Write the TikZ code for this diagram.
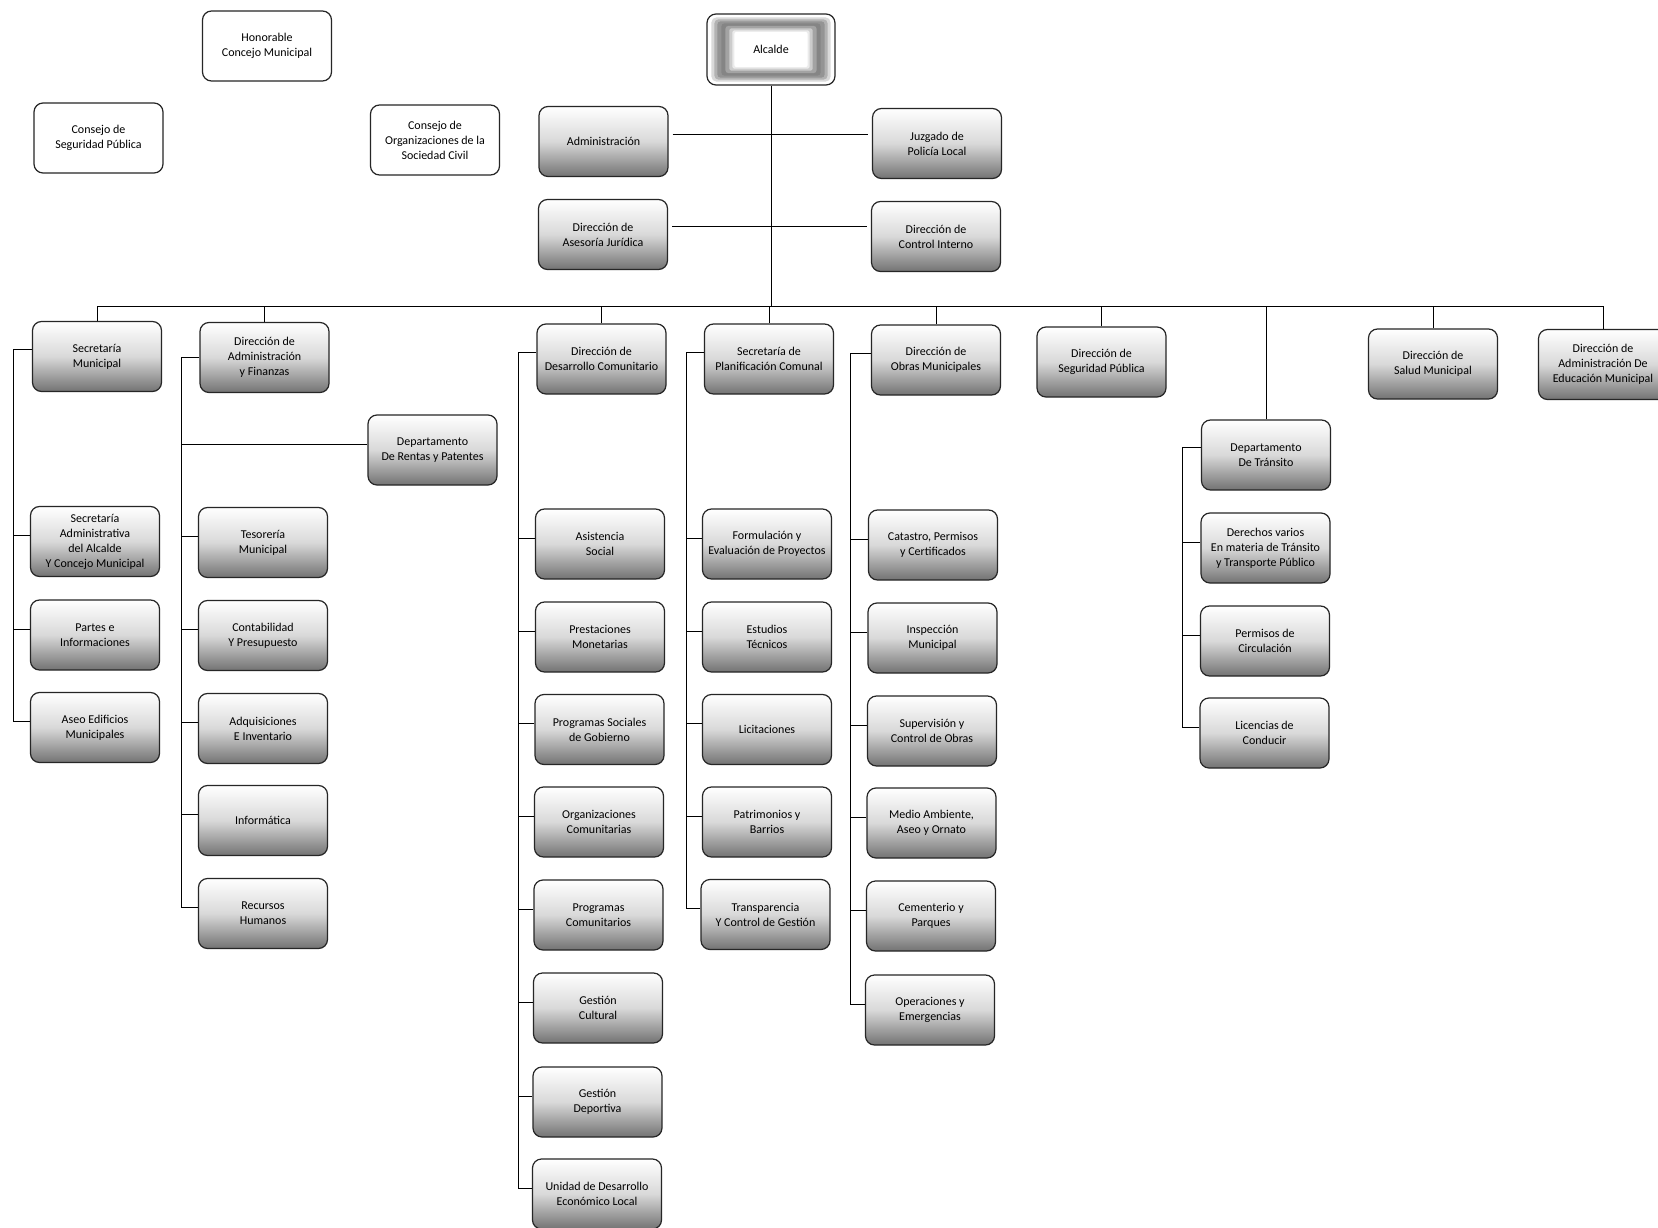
\documentclass[tikz,border=0pt]{standalone}
\usepackage{fontspec}
\setmainfont{Carlito}
\usetikzlibrary{calc}
\tikzset{
  boxbase/.style={draw=black!85, line width=1.2pt, rounded corners=9pt, minimum width=129pt, minimum height=70pt, inner sep=2pt, align=center, font=\fontsize{12}{15}\selectfont},
  gbox/.style={boxbase, top color=white, bottom color=black!55, middle color=black!15},
  wbox/.style={boxbase, fill=white},
  conn/.style={draw=black, line width=1pt},
}
\begin{document}
\begin{tikzpicture}[x=1pt,y=-1pt]
\useasboundingbox[fill=white] (0,0) rectangle (1658,1228);

% ---- top level
\node[wbox] (hon) at (267,46) {Honorable\\Concejo Municipal};
\node[wbox] (csp) at (98.5,138) {Consejo de\\Seguridad Pública};
\node[wbox] (cosc) at (435,140) {Consejo de\\Organizaciones de la\\Sociedad Civil};

\node[wbox, minimum width=128pt, minimum height=71pt] (alc) at (771,49.5) {};
\fill[rounded corners=5pt, black!15] ($(alc.north west)+(5,4)$) rectangle ($(alc.south east)+(-5,-4)$);
\fill[rounded corners=4pt, black!30] ($(alc.north west)+(8,6)$) rectangle ($(alc.south east)+(-8,-6)$);
\fill[rounded corners=3pt, black!42] ($(alc.north west)+(11,8)$) rectangle ($(alc.south east)+(-11,-8)$);
\fill[rounded corners=3pt, black!48] ($(alc.north west)+(15,10)$) rectangle ($(alc.south east)+(-15,-10)$);
\fill[rounded corners=3pt, black!36] ($(alc.north west)+(19,12.5)$) rectangle ($(alc.south east)+(-19,-12.5)$);
\fill[rounded corners=2pt, black!20] ($(alc.north west)+(23,15)$) rectangle ($(alc.south east)+(-23,-15)$);
\fill[rounded corners=2pt, black!8] ($(alc.north west)+(26,17)$) rectangle ($(alc.south east)+(-26,-17)$);
\fill[rounded corners=2pt, white] ($(alc.north west)+(28,18.5)$) rectangle ($(alc.south east)+(-28,-18.5)$);
\node[font=\fontsize{12}{15}\selectfont] (alct) at (alc) {Alcalde};

\node[gbox] (adm) at (603.5,141.5) {Administración};
\node[gbox] (juz) at (937,143.5) {Juzgado de\\Policía Local};
\node[gbox] (aju) at (603,234.5) {Dirección de\\Asesoría Jurídica};
\node[gbox] (cin) at (936,236.5) {Dirección de\\Control Interno};

% ---- heads
\node[gbox] (smu) at (97,356.5) {Secretaría\\Municipal};
\node[gbox] (daf) at (264.5,357.5) {Dirección de\\Administración\\y Finanzas};
\node[gbox] (ddc) at (601.5,359) {Dirección de\\Desarrollo Comunitario};
\node[gbox] (spc) at (769,359) {Secretaría de\\Planificación Comunal};
\node[gbox] (dom) at (936,360) {Dirección de\\Obras Municipales};
\node[gbox] (dsp) at (1101.5,362) {Dirección de\\Seguridad Pública};
\node[gbox] (dsm) at (1433,364) {Dirección de\\Salud Municipal};
\node[gbox] (dae) at (1603,364.5) {Dirección de\\Administración De\\Educación Municipal};

% ---- Secretaría Municipal
\node[gbox] (sa1) at (95,541.5) {Secretaría\\Administrativa\\del Alcalde\\Y Concejo Municipal};
\node[gbox] (sa2) at (95,635) {Partes e\\Informaciones};
\node[gbox] (sa3) at (95,727.5) {Aseo Edificios\\Municipales};

% ---- Administración y Finanzas
\node[gbox] (ren) at (432.5,450) {Departamento\\De Rentas y Patentes};
\node[gbox] (tes) at (263,542.5) {Tesorería\\Municipal};
\node[gbox] (con) at (263,635.5) {Contabilidad\\Y Presupuesto};
\node[gbox] (adq) at (263,728.5) {Adquisiciones\\E Inventario};
\node[gbox] (inf) at (263,820.5) {Informática};
\node[gbox] (rrh) at (263,913.5) {Recursos\\Humanos};

% ---- Desarrollo Comunitario
\node[gbox] (c1) at (600,544) {Asistencia\\Social};
\node[gbox] (c2) at (600,637) {Prestaciones\\Monetarias};
\node[gbox] (c3) at (599.5,729.5) {Programas Sociales\\de Gobierno};
\node[gbox] (c4) at (599,822) {Organizaciones\\Comunitarias};
\node[gbox] (c5) at (598.5,915) {Programas\\Comunitarios};
\node[gbox] (c6) at (598,1008) {Gestión\\Cultural};
\node[gbox] (c7) at (597.5,1102) {Gestión\\Deportiva};
\node[gbox] (c8) at (597,1194) {Unidad de Desarrollo\\Económico Local};

% ---- Planificación
\node[gbox] (p1) at (767,544) {Formulación y\\Evaluación de Proyectos};
\node[gbox] (p2) at (767,637) {Estudios\\Técnicos};
\node[gbox] (p3) at (767,729.5) {Licitaciones};
\node[gbox] (p4) at (767,822) {Patrimonios y\\Barrios};
\node[gbox] (p5) at (765.5,914.5) {Transparencia\\Y Control de Gestión};

% ---- Obras
\node[gbox] (o1) at (933,545) {Catastro, Permisos\\y Certificados};
\node[gbox] (o2) at (932.5,638) {Inspección\\Municipal};
\node[gbox] (o3) at (932,731) {Supervisión y\\Control de Obras};
\node[gbox] (o4) at (931.5,823) {Medio Ambiente,\\Aseo y Ornato};
\node[gbox] (o5) at (931,916) {Cementerio y\\Parques};
\node[gbox] (o6) at (930,1010) {Operaciones y\\Emergencias};

% ---- Tránsito
\node[gbox] (t1) at (1266,455) {Departamento\\De Tránsito};
\node[gbox] (t2) at (1265.5,548) {Derechos varios\\En materia de Tránsito\\y Transporte Público};
\node[gbox] (t3) at (1265,641) {Permisos de\\Circulación};
\node[gbox] (t4) at (1264.5,733) {Licencias de\\Conducir};

% ---- connectors
\coordinate (busL) at (97,306);
\coordinate (busR) at (1603,306);
\draw[conn] (alc.south) -- (alc.south |- busL);
\draw[conn] ([yshift=7pt,xshift=4pt]adm.east) -- ([yshift=7pt,xshift=-4pt]adm.east -| juz.west);
\draw[conn] ([yshift=8pt,xshift=4pt]aju.east) -- ([yshift=8pt,xshift=-4pt]aju.east -| cin.west);
\draw[conn] (busL) -- (busR);
\foreach \h in {smu,daf,ddc,spc,dom,dsp,dsm,dae,t1}
  \draw[conn] (\h.north) -- (\h.north |- busL);

\coordinate (vS) at (13,0);
\coordinate (vA) at (181,0);
\coordinate (vD) at (518,0);
\coordinate (vP) at (686,0);
\coordinate (vO) at (850,0);
\coordinate (vT) at (1182,0);

\draw[conn] ([yshift=7pt]smu.west) -- ([yshift=7pt]smu.west -| vS) -- ([yshift=6pt]sa3.west -| vS);
\foreach \c in {sa1,sa2,sa3} \draw[conn] ([yshift=6pt]\c.west) -- ([yshift=6pt]\c.west -| vS);

\draw[conn] (daf.west) -- (daf.west -| vA) -- ([yshift=6pt]rrh.west -| vA);
\foreach \c in {ren,tes,con,adq,inf,rrh} \draw[conn] ([yshift=6pt]\c.west) -- ([yshift=6pt]\c.west -| vA);

\draw[conn] ([yshift=7pt]ddc.west) -- ([yshift=7pt]ddc.west -| vD) -- ([yshift=6pt]c8.west -| vD);
\foreach \c in {c1,c2,c3,c4,c5,c6,c7,c8} \draw[conn] ([yshift=6pt]\c.west) -- ([yshift=6pt]\c.west -| vD);

\draw[conn] ([yshift=7pt]spc.west) -- ([yshift=7pt]spc.west -| vP) -- ([yshift=6pt]p5.west -| vP);
\foreach \c in {p1,p2,p3,p4,p5} \draw[conn] ([yshift=6pt]\c.west) -- ([yshift=6pt]\c.west -| vP);

\draw[conn] ([yshift=7pt]dom.west) -- ([yshift=7pt]dom.west -| vO) -- ([yshift=6pt]o6.west -| vO);
\foreach \c in {o1,o2,o3,o4,o5,o6} \draw[conn] ([yshift=6pt]\c.west) -- ([yshift=6pt]\c.west -| vO);

\draw[conn] ([yshift=8pt]t1.west) -- ([yshift=8pt]t1.west -| vT) -- ([yshift=6pt]t4.west -| vT);
\foreach \c in {t2,t3,t4} \draw[conn] ([yshift=6pt]\c.west) -- ([yshift=6pt]\c.west -| vT);
\end{tikzpicture}
\end{document}
